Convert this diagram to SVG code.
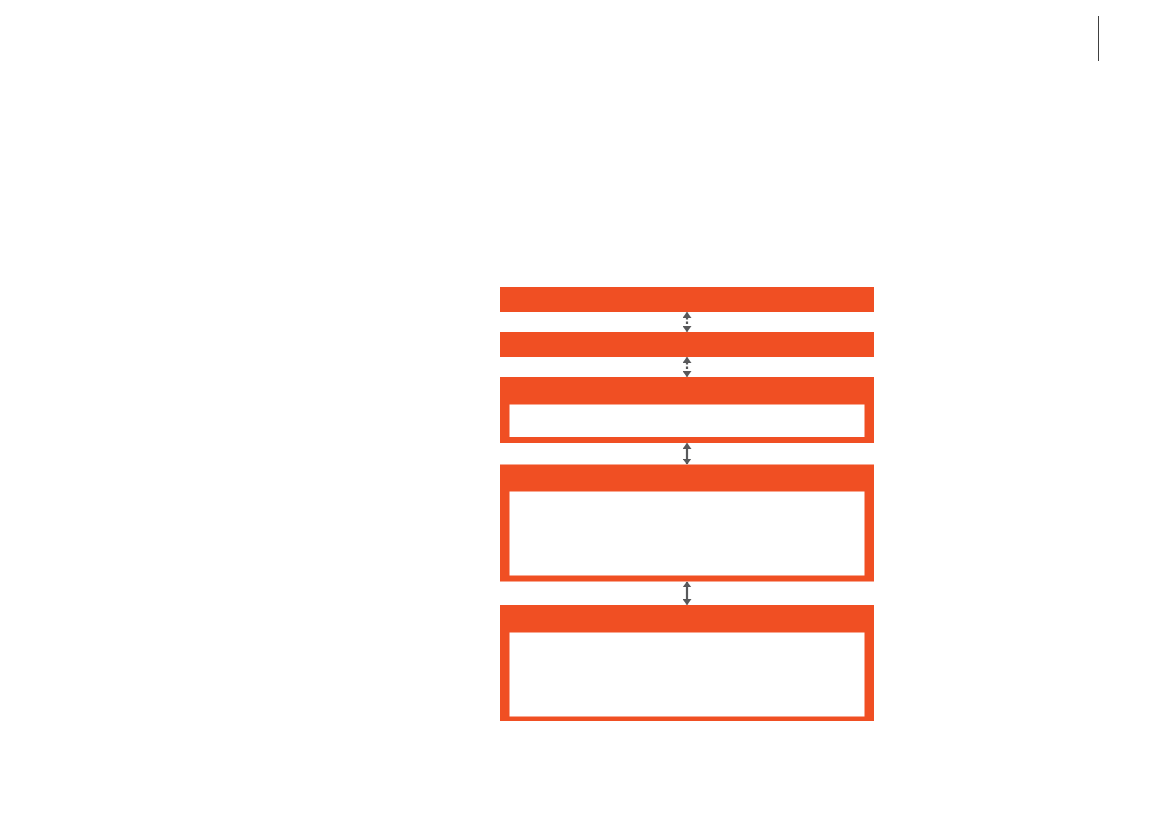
<svg xmlns="http://www.w3.org/2000/svg" width="1169" height="827" viewBox="0 0 1169 827">
<style>
.box{fill:#F04F23}
.inner{fill:#FFFFFF}
.con{stroke:#58595B;stroke-width:2.2;fill:none}
.dash{stroke-dasharray:2.5 2}
</style>
<defs>
<marker id="ah" viewBox="0 0 10 10" refX="9" refY="5" markerWidth="6" markerHeight="9" orient="auto-start-reverse" markerUnits="userSpaceOnUse" preserveAspectRatio="none">
<path d="M0,0 L10,5 L0,10 Z" fill="#58595B"/>
</marker>
</defs>
<rect width="1169" height="827" fill="#FFFFFF"/>
<line x1="1098.5" y1="16" x2="1098.5" y2="61" stroke="#404040" stroke-width="1"/>
<g id="node1"><rect class="box" x="500" y="287" width="374" height="25"/></g>
<g id="node2"><rect class="box" x="500" y="332" width="374" height="25"/></g>
<g id="node3"><rect class="box" x="500" y="377" width="374" height="66"/><rect class="inner" x="509.5" y="404.5" width="355" height="32.5"/></g>
<g id="node4"><rect class="box" x="500" y="464.5" width="374" height="117"/><rect class="inner" x="509.5" y="491.5" width="355" height="84"/></g>
<g id="node5"><rect class="box" x="500" y="605" width="374" height="116"/><rect class="inner" x="509.5" y="632.5" width="355" height="84"/></g>
<g id="connectors">
<line class="con dash" x1="687" y1="312.5" x2="687" y2="331.5" marker-start="url(#ah)" marker-end="url(#ah)"/>
<line class="con dash" x1="687" y1="357.5" x2="687" y2="376.5" marker-start="url(#ah)" marker-end="url(#ah)"/>
<line class="con" x1="687" y1="443.5" x2="687" y2="464" marker-start="url(#ah)" marker-end="url(#ah)"/>
<line class="con" x1="687" y1="582" x2="687" y2="604.5" marker-start="url(#ah)" marker-end="url(#ah)"/>
</g>
</svg>
